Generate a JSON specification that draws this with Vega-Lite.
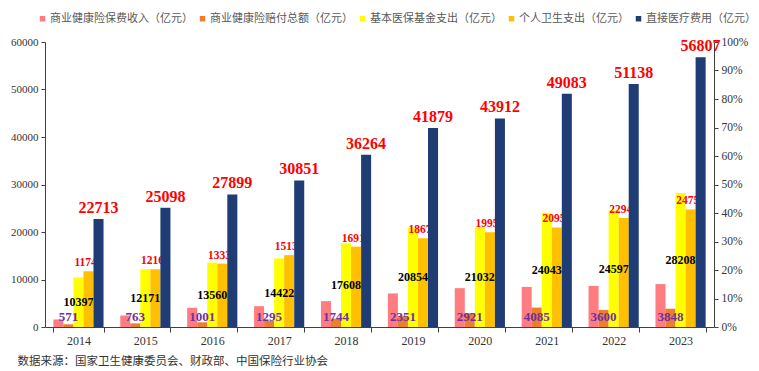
{
  "$schema": "https://vega.github.io/schema/vega-lite/v6.json",
  "width": 669,
  "height": 285,
  "autosize": {"type": "none"},
  "padding": {"left": 45, "top": 42, "right": 45, "bottom": 44},
  "background": "white",
  "config": {
    "view": {"stroke": null},
    "axis": {"domainColor": "#404040", "tickColor": "#404040", "grid": false, "labelColor": "#333333", "labelFont": "Liberation Serif"}
  },
  "title": {
    "text": "数据来源：国家卫生健康委员会、财政部、中国保险行业协会",
    "orient": "bottom",
    "anchor": "start",
    "font": "Noto Sans CJK SC",
    "fontSize": 11.5,
    "fontWeight": "normal",
    "color": "#333333",
    "dx": 7,
    "offset": 10
  },
  "data": {
    "values": [
      {"year": "2014", "series": "商业健康险保费收入（亿元）", "value": 1587},
      {"year": "2014", "series": "商业健康险赔付总额（亿元）", "value": 571},
      {"year": "2014", "series": "基本医保基金支出（亿元）", "value": 10397},
      {"year": "2014", "series": "个人卫生支出（亿元）", "value": 11745},
      {"year": "2014", "series": "直接医疗费用（亿元）", "value": 22713},
      {"year": "2015", "series": "商业健康险保费收入（亿元）", "value": 2410},
      {"year": "2015", "series": "商业健康险赔付总额（亿元）", "value": 763},
      {"year": "2015", "series": "基本医保基金支出（亿元）", "value": 12171},
      {"year": "2015", "series": "个人卫生支出（亿元）", "value": 12164},
      {"year": "2015", "series": "直接医疗费用（亿元）", "value": 25098},
      {"year": "2016", "series": "商业健康险保费收入（亿元）", "value": 4042},
      {"year": "2016", "series": "商业健康险赔付总额（亿元）", "value": 1001},
      {"year": "2016", "series": "基本医保基金支出（亿元）", "value": 13560},
      {"year": "2016", "series": "个人卫生支出（亿元）", "value": 13338},
      {"year": "2016", "series": "直接医疗费用（亿元）", "value": 27899},
      {"year": "2017", "series": "商业健康险保费收入（亿元）", "value": 4389},
      {"year": "2017", "series": "商业健康险赔付总额（亿元）", "value": 1295},
      {"year": "2017", "series": "基本医保基金支出（亿元）", "value": 14422},
      {"year": "2017", "series": "个人卫生支出（亿元）", "value": 15134},
      {"year": "2017", "series": "直接医疗费用（亿元）", "value": 30851},
      {"year": "2018", "series": "商业健康险保费收入（亿元）", "value": 5448},
      {"year": "2018", "series": "商业健康险赔付总额（亿元）", "value": 1744},
      {"year": "2018", "series": "基本医保基金支出（亿元）", "value": 17608},
      {"year": "2018", "series": "个人卫生支出（亿元）", "value": 16912},
      {"year": "2018", "series": "直接医疗费用（亿元）", "value": 36264},
      {"year": "2019", "series": "商业健康险保费收入（亿元）", "value": 7066},
      {"year": "2019", "series": "商业健康险赔付总额（亿元）", "value": 2351},
      {"year": "2019", "series": "基本医保基金支出（亿元）", "value": 20854},
      {"year": "2019", "series": "个人卫生支出（亿元）", "value": 18674},
      {"year": "2019", "series": "直接医疗费用（亿元）", "value": 41879},
      {"year": "2020", "series": "商业健康险保费收入（亿元）", "value": 8173},
      {"year": "2020", "series": "商业健康险赔付总额（亿元）", "value": 2921},
      {"year": "2020", "series": "基本医保基金支出（亿元）", "value": 21032},
      {"year": "2020", "series": "个人卫生支出（亿元）", "value": 19959},
      {"year": "2020", "series": "直接医疗费用（亿元）", "value": 43912},
      {"year": "2021", "series": "商业健康险保费收入（亿元）", "value": 8447},
      {"year": "2021", "series": "商业健康险赔付总额（亿元）", "value": 4085},
      {"year": "2021", "series": "基本医保基金支出（亿元）", "value": 24043},
      {"year": "2021", "series": "个人卫生支出（亿元）", "value": 20955},
      {"year": "2021", "series": "直接医疗费用（亿元）", "value": 49083},
      {"year": "2022", "series": "商业健康险保费收入（亿元）", "value": 8653},
      {"year": "2022", "series": "商业健康险赔付总额（亿元）", "value": 3600},
      {"year": "2022", "series": "基本医保基金支出（亿元）", "value": 24597},
      {"year": "2022", "series": "个人卫生支出（亿元）", "value": 22941},
      {"year": "2022", "series": "直接医疗费用（亿元）", "value": 51138},
      {"year": "2023", "series": "商业健康险保费收入（亿元）", "value": 9035},
      {"year": "2023", "series": "商业健康险赔付总额（亿元）", "value": 3848},
      {"year": "2023", "series": "基本医保基金支出（亿元）", "value": 28208},
      {"year": "2023", "series": "个人卫生支出（亿元）", "value": 24751},
      {"year": "2023", "series": "直接医疗费用（亿元）", "value": 56807}
    ]
  },
  "resolve": {"scale": {"y": "independent"}},
  "layer": [
    {
      "layer": [
        {
          "transform": [{"filter": "datum.series !== '直接医疗费用（亿元）'"}],
          "mark": {"type": "bar"},
          "encoding": {
            "x": {"field": "year", "type": "nominal", "scale": {"paddingInner": 0.25, "paddingOuter": 0.125},
              "axis": {"title": null, "labelAngle": 0, "tickBand": "extent", "tickSize": 5, "labelFontSize": 12, "labelPadding": 3, "labelColor": "#333333"}},
            "xOffset": {"field": "series", "type": "nominal", "scale": {"domain": ["商业健康险保费收入（亿元）", "商业健康险赔付总额（亿元）", "基本医保基金支出（亿元）", "个人卫生支出（亿元）", "直接医疗费用（亿元）"], "paddingInner": 0, "paddingOuter": 0}},
            "y": {"field": "value", "type": "quantitative", "scale": {"domain": [0, 60000], "nice": false},
              "axis": {"title": null, "values": [0, 10000, 20000, 30000, 40000, 50000, 60000], "format": "d", "tickSize": 4, "labelFontSize": 11, "labelPadding": 3}},
            "color": {"field": "series", "type": "nominal",
              "scale": {"domain": ["商业健康险保费收入（亿元）", "商业健康险赔付总额（亿元）", "基本医保基金支出（亿元）", "个人卫生支出（亿元）", "直接医疗费用（亿元）"],
                "range": ["#FF7C80", "#ED7D31", "#FFFF00", "#FFC000", "#1F3C74"]},
              "legend": {"title": null, "orient": "none", "legendX": -8, "legendY": -29, "direction": "horizontal",
                "symbolType": "square", "symbolSize": 30, "symbolStrokeWidth": 0, "labelFont": "Noto Sans CJK SC", "labelFontSize": 11,
                "labelColor": "#595959", "labelOffset": 2, "columnPadding": 4, "labelLimit": 300}}
          }
        },
        {
          "transform": [{"filter": "datum.series === '个人卫生支出（亿元）'"}],
          "mark": {"type": "text", "font": "Liberation Serif", "fontWeight": "bold", "fontSize": 11.5, "color": "#FF0000", "baseline": "bottom", "dy": -3},
          "encoding": {
            "x": {"field": "year", "type": "nominal"},
            "xOffset": {"field": "series", "type": "nominal"},
            "y": {"field": "value", "type": "quantitative"},
            "text": {"field": "value", "type": "quantitative", "format": "d"}
          }
        },
        {
          "transform": [{"filter": "datum.series === '直接医疗费用（亿元）'"}],
          "mark": {"type": "bar"},
          "encoding": {
            "x": {"field": "year", "type": "nominal"},
            "xOffset": {"field": "series", "type": "nominal"},
            "y": {"field": "value", "type": "quantitative"},
            "color": {"field": "series", "type": "nominal"}
          }
        },
        {
          "transform": [{"filter": "datum.series === '直接医疗费用（亿元）'"}],
          "mark": {"type": "text", "font": "Liberation Serif", "fontWeight": "bold", "fontSize": 16, "color": "#FF0000", "baseline": "bottom", "dy": -3},
          "encoding": {
            "x": {"field": "year", "type": "nominal"},
            "xOffset": {"field": "series", "type": "nominal"},
            "y": {"field": "value", "type": "quantitative"},
            "text": {"field": "value", "type": "quantitative", "format": "d"}
          }
        },
        {
          "transform": [{"filter": "datum.series === '商业健康险赔付总额（亿元）'"}],
          "mark": {"type": "text", "font": "Liberation Serif", "fontWeight": "bold", "fontSize": 13, "color": "#7030A0", "baseline": "middle", "dy": -10},
          "encoding": {
            "x": {"field": "year", "type": "nominal"},
            "xOffset": {"field": "series", "type": "nominal"},
            "y": {"datum": 0, "type": "quantitative"},
            "text": {"field": "value", "type": "quantitative", "format": "d"}
          }
        }
      ]
    },
    {
      "transform": [{"filter": "datum.series === '基本医保基金支出（亿元）'"}],
      "mark": {"type": "text", "font": "Liberation Serif", "fontWeight": "bold", "fontSize": 12, "color": "#000000", "baseline": "middle"},
      "encoding": {
        "x": {"field": "year", "type": "nominal"},
        "xOffset": {"field": "series", "type": "nominal"},
        "y": {"field": "value", "type": "quantitative", "scale": {"domain": [0, 120000], "nice": false}, "axis": null},
        "text": {"field": "value", "type": "quantitative", "format": "d"}
      }
    },
    {
      "mark": {"type": "rule", "opacity": 0},
      "encoding": {
        "y": {"datum": 0, "type": "quantitative", "scale": {"domain": [0, 1], "nice": false},
          "axis": {"orient": "right", "title": null, "values": [0, 0.1, 0.2, 0.3, 0.4, 0.5, 0.6, 0.7, 0.8, 0.9, 1], "format": ".0%", "tickSize": 4, "labelFontSize": 11.5, "labelPadding": 3}}
      }
    }
  ]
}
